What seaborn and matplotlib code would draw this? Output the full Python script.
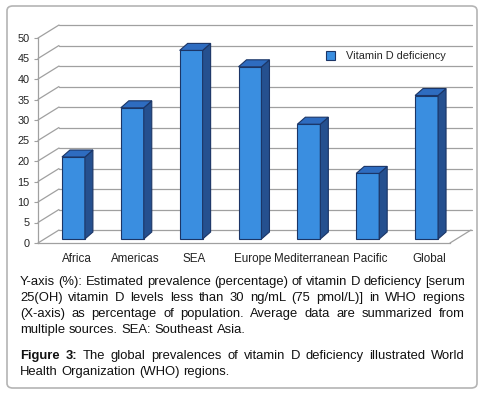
import numpy as np
import pandas as pd
import seaborn as sns
from matplotlib import pyplot as plt
from matplotlib.patches import Polygon, FancyBboxPatch, Rectangle

regions = ["Africa", "Americas", "SEA", "Europe", "Mediterranean", "Pacific", "Global"]
prevalence = [20, 32, 46, 42, 28, 16, 35]
yticks = [0, 5, 10, 15, 20, 25, 30, 35, 40, 45, 50]
legend_label = "Vitamin D deficiency"

caption_lines = [
    "Y-axis (%): Estimated prevalence (percentage) of vitamin D deficiency [serum",
    "25(OH) vitamin D levels less than 30 ng/mL (75 pmol/L)] in WHO regions",
    "(X-axis) as percentage of population. Average data are summarized from",
    "multiple sources. SEA: Southeast Asia.",
]
figure_lines = [
    "Figure 3: The global prevalences of vitamin D deficiency illustrated World",
    "Health Organization (WHO) regions.",
]

FRONT = "#3a8ee0"
SIDE = "#25508f"
TOP = "#2e6cc0"
EDGE = "#1b3566"
GRID = "#a0a0a0"

W, H = 484, 396
FS = 9.4


def main():
    sns.set_style("white")
    plt.rcParams["font.family"] = ["Liberation Sans", "DejaVu Sans"]
    fig = plt.figure(figsize=(W / 100, H / 100), dpi=100)

    # rounded frame around the whole figure panel
    frame = FancyBboxPatch((7 / W, 1 - 388 / H), 470 / W, 382 / H,
                           boxstyle="round,pad=0,rounding_size=0.012",
                           transform=fig.transFigure, fc="white", ec="#b4b4b4", lw=1.2,
                           zorder=-5)
    fig.patches.append(frame)

    # front plane of the 3D box
    x0, x1, ytop, ybot = 38, 450, 38, 243
    ax = fig.add_axes([x0 / W, 1 - ybot / H, (x1 - x0) / W, (ybot - ytop) / H], zorder=2)
    ax.set_xlim(-0.5, len(regions) - 0.5)
    ax.set_ylim(0, 50)
    ax.patch.set_alpha(0)

    px_x = (x1 - x0) / len(regions)
    px_y = (ybot - ytop) / 50.0

    def dx(p):
        return p / px_x

    def dy(p):
        return p / px_y

    # back wall offset
    bx, by = dx(21), dy(13)
    for v in yticks:
        ax.plot([-0.5 + bx, len(regions) - 0.5 + bx + dx(1)], [v + by, v + by],
                color=GRID, lw=0.9, clip_on=False, zorder=1)
        ax.plot([-0.5, -0.5 + bx], [v, v + by], color=GRID, lw=0.9, clip_on=False, zorder=1)
    ax.plot([len(regions) - 0.5, len(regions) - 0.5 + bx], [0, by],
            color=GRID, lw=0.9, clip_on=False, zorder=1)

    df = pd.DataFrame({"region": regions, "value": prevalence})
    sns.barplot(data=df, x="region", y="value", color=FRONT, width=0.39,
                saturation=1, ax=ax, zorder=3)

    ox, oy = dx(6), dy(4)
    sx, sy = dx(8), dy(7)
    for p in ax.patches:
        xl, w, h = p.get_x(), p.get_width(), p.get_height()
        p.set_x(xl + ox)
        p.set_y(oy)
        p.set_edgecolor(EDGE)
        p.set_linewidth(0.8)
        p.set_clip_on(False)
        xl = xl + ox
        xr = xl + w
        side = Polygon([(xr, oy), (xr + sx, oy + sy), (xr + sx, oy + h + sy), (xr, oy + h)],
                       closed=True, fc=SIDE, ec=EDGE, lw=0.8, zorder=3, clip_on=False)
        top = Polygon([(xl, oy + h), (xl + sx, oy + h + sy), (xr + sx, oy + h + sy), (xr, oy + h)],
                      closed=True, fc=TOP, ec=EDGE, lw=0.8, zorder=3, clip_on=False)
        ax.add_patch(side)
        ax.add_patch(top)

    for s in ["top", "right"]:
        ax.spines[s].set_visible(False)
    ax.spines["left"].set_color(GRID)
    ax.spines["bottom"].set_color(GRID)
    ax.spines["left"].set_linewidth(0.9)
    ax.spines["bottom"].set_linewidth(0.9)

    ax.set_yticks(yticks)
    ax.set_yticklabels([str(t) for t in yticks])
    ax.tick_params(axis="y", length=3, color=GRID, labelsize=7.8, pad=3, labelcolor="#222222", left=True)
    ax.set_xticks(np.arange(len(regions)) + dx(9))
    ax.set_xticklabels(regions)
    ax.tick_params(axis="x", length=0, labelsize=8.4, pad=7, labelcolor="#222222")
    ax.set_xlabel("")
    ax.set_ylabel("")

    # legend
    ax.legend(handles=[Rectangle((0, 0), 1, 1, fc=FRONT, ec=EDGE, lw=0.8)],
              labels=[legend_label], loc="upper left",
              bbox_to_anchor=((322 - x0) / (x1 - x0), 1 - (47 - ytop) / (ybot - ytop)),
              frameon=False, fontsize=7.9, handlelength=0.8, handleheight=0.8,
              handletextpad=1.0, borderaxespad=0)

    # justified caption text
    fig.canvas.draw()
    renderer = fig.canvas.get_renderer()
    left, right = 20, 465

    probe = fig.text(0, 0, "a a", fontsize=FS)
    probe2 = fig.text(0, 0, "aa", fontsize=FS)
    space = probe.get_window_extent(renderer).width - probe2.get_window_extent(renderer).width
    probe.remove()
    probe2.remove()

    def draw_line(line, ypix, justify, bold_first=0):
        words = line.split(" ")
        arts, widths = [], []
        for i, wd in enumerate(words):
            t = fig.text(0, 0, wd, fontsize=FS, color="#111111",
                         fontweight="bold" if i < bold_first else "normal",
                         va="baseline", ha="left")
            arts.append(t)
            widths.append(t.get_window_extent(renderer).width)
        if justify and len(words) > 1:
            gap = (right - left - sum(widths)) / (len(words) - 1)
        else:
            gap = space
        x = left
        for t, wd in zip(arts, widths):
            t.set_position((x / W, 1 - ypix / H))
            x += wd + gap

    for i, line in enumerate(caption_lines):
        draw_line(line, 285 + i * 16, i < len(caption_lines) - 1)
    for i, line in enumerate(figure_lines):
        draw_line(line, 359 + i * 16, i < len(figure_lines) - 1, bold_first=2 if i == 0 else 0)

    fig.savefig("out.png", dpi=100)


if __name__ == "__main__":
    main()
